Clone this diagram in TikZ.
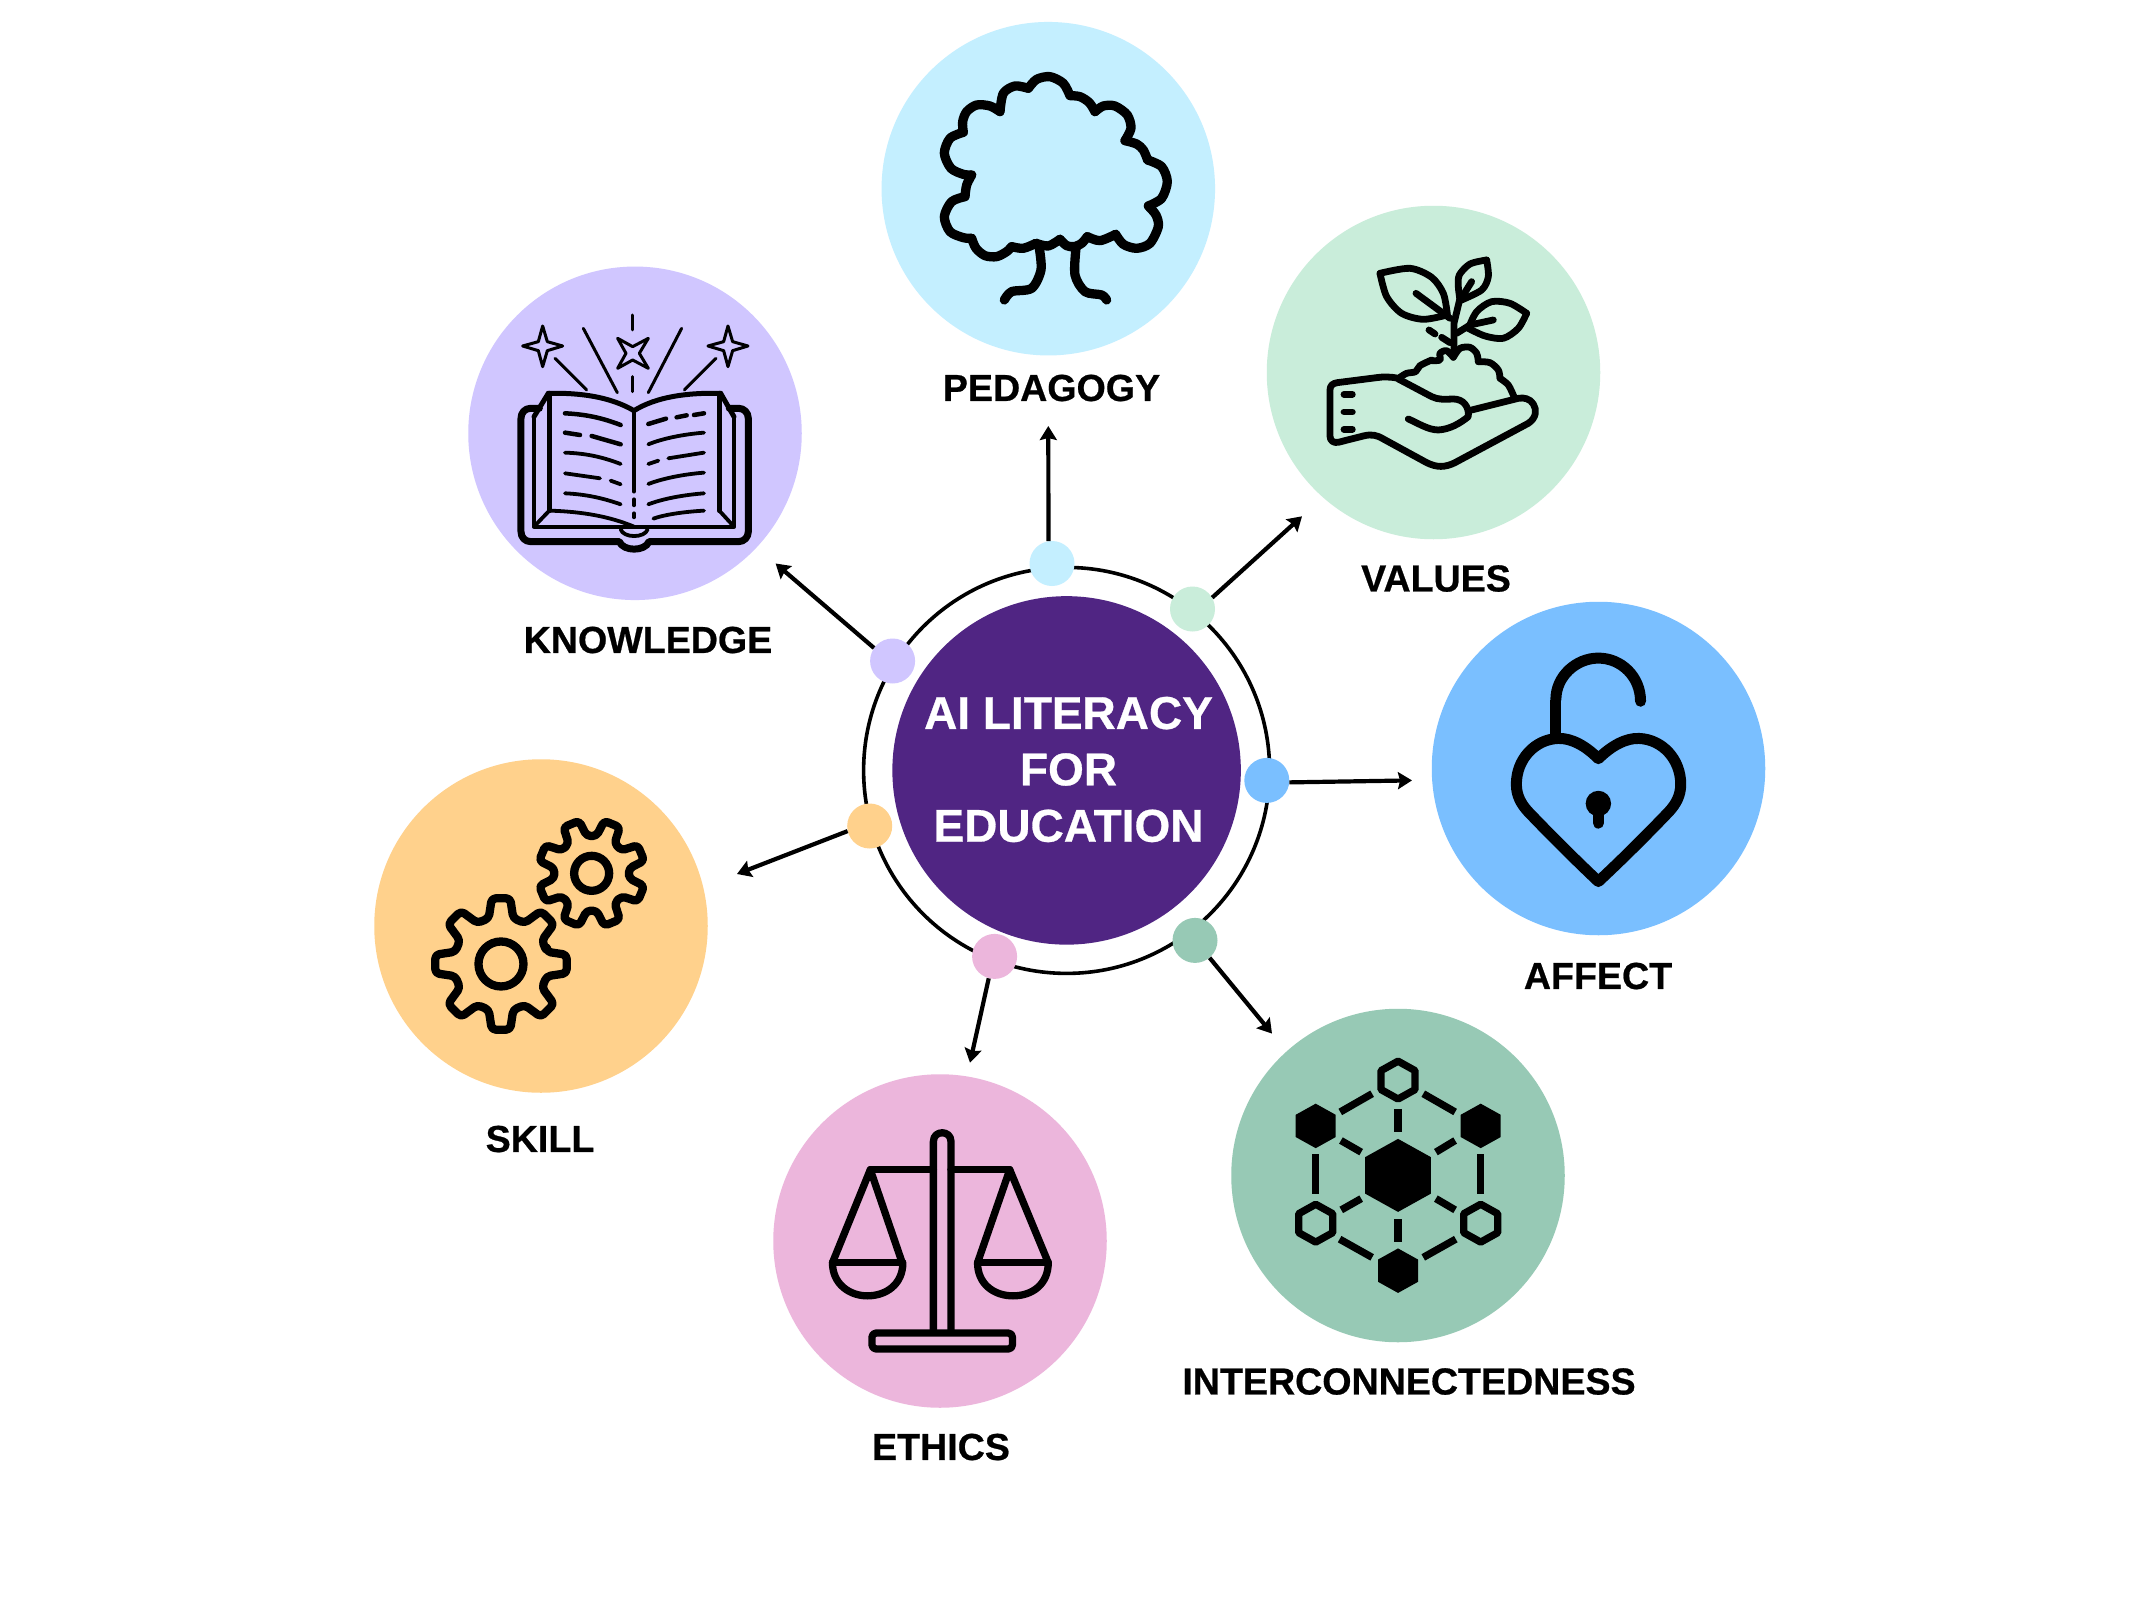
\documentclass[tikz,border=0pt]{standalone}
\usepackage{fontspec}
\setmainfont{Liberation Sans}[BoldFeatures={FakeBold=0.6}]
\usetikzlibrary{arrows.meta,shapes.geometric}
\definecolor{cPed}{HTML}{C4EFFF}
\definecolor{cVal}{HTML}{C9EDDA}
\definecolor{cKno}{HTML}{D0C6FF}
\definecolor{cAff}{HTML}{7ABFFF}
\definecolor{cInt}{HTML}{97C9B5}
\definecolor{cEth}{HTML}{ECB6DC}
\definecolor{cSki}{HTML}{FFD18C}
\definecolor{cCore}{HTML}{502583}
\tikzset{
  bigc/.style={circle,fill=#1,draw=none,minimum size=333.5pt,inner sep=0pt},
  dotn/.style={circle,fill=#1,draw=none,minimum size=45pt,inner sep=0pt},
  lab/.style={font=\fontsize{37.6}{40}\selectfont\bfseries,text=black,inner sep=0pt},
  arw/.style={line width=4.2pt,line join=round,-{Stealth[length=14pt,width=17pt,inset=2pt]}},
  ico/.style={draw=black,line cap=round,line join=round},
}
\newcommand{\hexout}[3]{({#1},{#2-#3}) -- ({#1+.9*#3},{#2-.5*#3}) -- ({#1+.9*#3},{#2+.5*#3}) -- ({#1},{#2+#3}) -- ({#1-.9*#3},{#2+.5*#3}) -- ({#1-.9*#3},{#2-.5*#3}) -- cycle}
\newcommand{\gearpath}[7]{% cx cy tip root tipHalf rootHalf rot
  \draw[ico,line width=8.3pt,rounded corners=4pt]
    ({#1+#4*cos(#7-#6)},{#2+#4*sin(#7-#6)})
    \foreach \gk in {0,45,...,315}{
      -- ({#1+#4*cos(#7+\gk-#6)},{#2+#4*sin(#7+\gk-#6)})
      -- ({#1+#3*cos(#7+\gk-#5)},{#2+#3*sin(#7+\gk-#5)})
      -- ({#1+#3*cos(#7+\gk+#5)},{#2+#3*sin(#7+\gk+#5)})
      -- ({#1+#4*cos(#7+\gk+#6)},{#2+#4*sin(#7+\gk+#6)})
    } -- cycle;}
\begin{document}
\begin{tikzpicture}[x=1pt,y=-1pt]
\useasboundingbox (0,0) rectangle (2134,1600);
\fill[white] (0,0) rectangle (2134,1600);

% big circles
\node[bigc=cPed] (ped) at (1048.3,188.7) {};
\node[bigc=cVal] (val) at (1433.5,372.5) {};
\node[bigc=cKno] (kno) at (635,433.3) {};
\node[bigc=cAff] (aff) at (1598.5,768.5) {};
\node[bigc=cInt] (int) at (1398,1175.5) {};
\node[bigc=cEth] (eth) at (940,1241) {};
\node[bigc=cSki] (ski) at (541,926) {};

% centre
\node[circle,draw=black,line width=3.6pt,minimum size=406pt,inner sep=0pt] (ring) at (1066.6,770.4) {};
\node[circle,fill=cCore,draw=none,minimum size=348.5pt,inner sep=0pt] (core) at (1066.6,770.4) {};
\node[font=\fontsize{46}{56.4}\selectfont\bfseries,text=white,align=center,inner sep=0pt] (coretext) at (1068.5,769.5) {AI LITERACY\\FOR\\EDUCATION};

% dots
\node[dotn=cPed] (dped) at (1052,563.5) {};
\node[dotn=cVal] (dval) at (1192.5,609) {};
\node[dotn=cKno] (dkno) at (892.6,661) {};
\node[dotn=cAff] (daff) at (1266.8,780.4) {};
\node[dotn=cSki] (dski) at (869.7,826) {};
\node[dotn=cEth] (deth) at (994.6,956.4) {};
\node[dotn=cInt] (dint) at (1195,940.4) {};

% arrow tips
\coordinate (tped) at (1048.3,426);
\coordinate (tval) at (1302,516.3);
\coordinate (tkno) at (775.6,563.5);
\coordinate (taff) at (1412,780.4);
\coordinate (tski) at (737,874);
\coordinate (teth) at (970,1062.7);
\coordinate (tint) at (1272,1033.6);
\draw[arw] (dped.99) -- (tped);
\draw[arw] (dval.30) -- (tval);
\draw[arw] (dkno.145) -- (tkno);
\draw[arw] (daff.-5) -- (taff);
\draw[arw] (dski.193) -- (tski);
\draw[arw] (deth.255) -- (teth);
\draw[arw] (dint.-50) -- (tint);

% labels
\node[lab] (lped) at (1051.5,388) {PEDAGOGY};
\node[lab] (lval) at (1436,578.5) {VALUES};
\node[lab] (lkno) at (648,640) {KNOWLEDGE};
\node[lab] (laff) at (1598,976) {AFFECT};
\node[lab] (lski) at (540,1139) {SKILL};
\node[lab] (lint) at (1409,1381.5) {INTERCONNECTEDNESS};
\node[lab] (leth) at (941,1447) {ETHICS};

% tree icon
\begin{scope}[shift={(850,0)},x=.3333pt,y=-.3333pt,every path/.style={ico,line width=9.3pt}]
\draw plot[smooth] coordinates {(345,590) (350,555) (365,525)};
\draw plot[smooth] coordinates {(345,590) (305,605) (283,650) (300,695) (340,713) (365,715)};
\draw plot[smooth] coordinates {(365,715) (378,745) (405,767) (440,770) (470,755) (485,740)};
\draw plot[smooth] coordinates {(485,740) (520,745) (558,730)};
\draw plot[smooth] coordinates {(558,730) (595,738) (630,718)};
\draw plot[smooth] coordinates {(630,718) (650,737) (672,740) (695,730) (712,710)};
\draw plot[smooth] coordinates {(712,710) (750,722) (797,703)};
\draw plot[smooth] coordinates {(797,703) (820,733) (860,745) (900,730) (925,680) (918,645) (895,618)};
\draw plot[smooth] coordinates {(895,618) (935,595) (952,545) (935,500) (893,480)};
\draw plot[smooth] coordinates {(893,480) (880,450) (860,432) (825,422)};
\draw plot[smooth] coordinates {(825,422) (843,385) (832,345) (795,318) (760,318) (735,335)};
\draw plot[smooth] coordinates {(735,335) (718,308) (690,290) (660,287)};
\draw plot[smooth] coordinates {(660,287) (640,250) (600,230) (560,238) (535,265)};
\draw plot[smooth] coordinates {(535,265) (495,258) (460,280) (450,335)};
\draw plot[smooth] coordinates {(450,335) (420,318) (380,315) (350,335) (338,365) (340,397)};
\draw plot[smooth] coordinates {(340,397) (300,415) (283,460) (303,505) (340,523) (365,525)};
\draw plot[smooth] coordinates {(568,745) (573,810) (545,865) (485,875) (463,900)};
\draw plot[smooth] coordinates {(678,745) (675,825) (705,875) (755,885) (770,900)};
\end{scope}

% plant in hand icon
\begin{scope}[shift={(1250,190)},x=.3333pt,y=-.3333pt,every path/.style={ico,line width=6.8pt}]
\draw (445,565) .. controls (420,560) and (400,560) .. (380,563) -- (262,578) .. controls (248,580) and (240,587) .. (240,600) -- (240,738) .. controls (240,752) and (250,760) .. (265,757) -- (340,738) .. controls (365,732) and (380,735) .. (400,747) -- (530,818) .. controls (560,833) and (585,833) .. (615,818) -- (835,700) .. controls (858,685) and (862,660) .. (850,642) .. controls (840,626) and (822,622) .. (805,625) -- (665,660);
\draw (445,567) -- (545,620) .. controls (565,630) and (585,628) .. (610,627) .. controls (640,627) and (658,650) .. (655,680) .. controls (630,700) and (600,718) .. (565,720) .. controls (535,720) and (505,700) .. (475,687);
\draw (282,613) -- (307,613);
\draw (282,666) -- (307,666);
\draw (282,718) -- (307,718);
\draw plot[smooth] coordinates {(450,562) (470,550) (497,545) (510,527)  (545,510)};
\draw plot[smooth] coordinates {(545,512) (570,510) (570,490) (590,482) (610,502)};
\draw plot[smooth] coordinates {(610,502) (630,475) (660,472) (680,490) (685,515)};
\draw plot[smooth] coordinates {(685,515) (720,518) (745,540) (750,565)};
\draw plot[smooth] coordinates {(750,565) (775,585) (792,620)};
\draw (612,480) -- (612,400) -- (630,325);
\draw plot[smooth] coordinates {(390,250) (480,235) (545,262) (580,310) (592,372)};
\draw plot[smooth] coordinates {(390,250) (410,320) (455,370) (520,388) (592,375)};
\draw (498,310) -- (600,385);
\draw plot[smooth] coordinates {(710,210) (660,222) (628,255) (625,290) (630,330)};
\draw plot[smooth] coordinates {(710,210) (715,260) (695,300) (630,332)};
\draw (640,315) -- (665,275);
\draw plot[smooth] coordinates {(830,370) (780,340) (725,335) (680,365) (655,415)};
\draw plot[smooth] coordinates {(830,370) (805,415) (760,445) (705,438) (655,415)};
\draw (620,430) -- (660,405) -- (730,390);
\draw (537,420) -- (555,432);
\draw (575,442) -- (600,458);
\end{scope}

% book icon
\begin{scope}[shift={(460,260)},x=.3333pt,y=-.3333pt,every path/.style={ico,line width=3.8pt}]
\draw[line width=7pt] (238,445) -- (212,445) .. controls (195,445) and (183,458) .. (183,475) -- (183,815) .. controls (183,832) and (195,845) .. (212,845) -- (478,845) .. controls (490,875) and (555,875) .. (567,845) -- (836,845) .. controls (852,845) and (865,832) .. (865,815) -- (865,475) .. controls (865,458) and (852,445) .. (836,445) -- (808,445);
\draw (222,470) -- (222,800) -- (822,800) -- (822,470);
\draw[line width=5pt] (222,470) -- (265,400);
\draw[line width=5pt] (822,470) -- (782,400);
\draw[line width=5pt] (268,400) -- (268,752);
\draw[line width=5pt] (778,400) -- (778,752);
\draw (268,752) -- (222,800);
\draw (778,752) -- (822,800);
\draw[line width=5pt] (265,400) .. controls (360,398) and (450,410) .. (522,452) .. controls (590,410) and (680,398) .. (782,400);
\draw (268,752) .. controls (370,755) and (450,770) .. (522,800);
\draw (522,452) -- (522,695);
\draw (522,718) -- (522,736);
\draw (522,760) -- (522,772);
\draw (482,808) .. controls (490,835) and (555,835) .. (563,808);
% text lines
\draw[line width=4.5pt] (315,460) .. controls (380,463) and (430,475) .. (482,495);
\draw[line width=4.5pt] (315,518) -- (360,525);
\draw[line width=4.5pt] (395,528) -- (482,553);
\draw (315,578) .. controls (380,580) and (430,592) .. (482,612);
\draw (315,640) -- (420,655);
\draw (452,662) -- (482,673);
\draw (315,700) .. controls (380,703) and (430,715) .. (482,733);
\draw[line width=4.5pt] (565,492) -- (618,476);
\draw[line width=4.5pt] (650,472) -- (680,466);
\draw[line width=4.5pt] (702,465) -- (732,460);
\draw (565,553) .. controls (610,535) and (670,523) .. (732,518);
\draw (565,612) -- (595,602);
\draw (625,595) -- (732,578);
\draw (565,672) .. controls (610,655) and (670,643) .. (732,638);
\draw (565,733) .. controls (610,716) and (670,705) .. (732,700);
\draw (580,776) .. controls (620,762) and (680,755) .. (732,752);
% rays
\draw[line width=3pt] (285,295) -- (380,390);
\draw[line width=3pt] (370,205) -- (472,398);
\draw[line width=3pt] (518,165) -- (518,210);
\draw[line width=3pt] (518,350) -- (518,395);
\draw[line width=3pt] (665,205) -- (565,398);
\draw[line width=3pt] (768,295) -- (673,390);
% stars
\draw[line width=3pt] (248,198) -- (262,245) -- (308,258) -- (262,272) -- (248,320) -- (235,272) -- (188,258) -- (235,245) -- cycle;
\draw[line width=3pt] (804,198) -- (818,245) -- (864,258) -- (818,272) -- (804,320) -- (791,272) -- (744,258) -- (791,245) -- cycle;
\draw[line width=3pt] (473,235) -- (518,260) -- (565,235) -- (538,280) -- (565,325) -- (518,300) -- (473,325) -- (498,280) -- cycle;
\end{scope}

% heart lock icon
\begin{scope}[shift={(1440,600)},x=.332pt,y=-.332pt,every path/.style={ico,line width=11pt}]
\draw[line cap=butt] (349,415) -- (349,300);
\draw (349,300) .. controls (349,230) and (410,175) .. (477,175) .. controls (545,175) and (604,230) .. (604,305);
\draw (477,478) .. controls (440,440) and (395,415) .. (355,417) .. controls (285,420) and (230,480) .. (230,555) .. controls (230,590) and (245,615) .. (265,637) .. controls (330,705) and (400,775) .. (477,848) .. controls (555,775) and (625,705) .. (690,637) .. controls (710,615) and (725,590) .. (725,555) .. controls (725,480) and (670,420) .. (600,417) .. controls (560,415) and (515,440) .. (477,478) -- cycle;
\fill[black,line width=2pt] (477,613) circle[radius=11.7pt];
\draw (477,630) -- (477,672);
\end{scope}

% network icon
\begin{scope}[shift={(1240,1020)},x=.332pt,y=-.332pt]
\fill[black] \hexout{476}{468}{110};
\fill[black] \hexout{228}{319}{67};
\fill[black] \hexout{725}{319}{67};
\fill[black] \hexout{476}{755}{67};
\draw[line width=7.3pt,line join=round] \hexout{476}{181}{57};
\draw[line width=7.3pt,line join=round] \hexout{228}{612}{57};
\draw[line width=7.3pt,line join=round] \hexout{725}{612}{57};
\foreach \xa/\ya/\xb/\yb in {302/277/398/222,552/222/648/277,476/268/476/338,304/363/365/398,648/363/590/398,227/405/227/525,725/405/725/525,365/538/305/572,590/538/648/572,476/600/476/668,300/660/398/715,650/660/552/715}
  \draw[line width=7.3pt] (\xa,\ya) -- (\xb,\yb);
\end{scope}

% scales icon
\begin{scope}[shift={(780,1090)},x=.332pt,y=-.332pt,every path/.style={ico,line width=7.3pt}]
\draw (462,725) -- (462,155) .. controls (462,120) and (515,120) .. (515,155) -- (515,725);
\draw (272,240) -- (462,240);
\draw (515,240) -- (692,240);
\draw[rounded corners=4pt] (277,732) rectangle (700,780);
\draw (158,520) -- (272,240) -- (368,520);
\draw (158,520) -- (368,520);
\draw (158,520) .. controls (158,585) and (210,620) .. (263,620) .. controls (320,620) and (370,585) .. (370,520);
\draw (595,520) -- (692,240) -- (808,520);
\draw (595,520) -- (808,520);
\draw (595,520) .. controls (595,585) and (645,620) .. (702,620) .. controls (760,620) and (808,585) .. (808,520);
\end{scope}

% gears icon
\begin{scope}[shift={(400,790)},x=.3333pt,y=-.3333pt]
\gearpath{303}{522}{199}{142}{8}{15}{0}
\draw[line width=8.3pt] (303,522) circle[radius=22.5pt];
\gearpath{575}{250}{162}{113}{9}{15}{22.5}
\draw[line width=8.3pt] (575,250) circle[radius=17.5pt];
\end{scope}
\end{tikzpicture}
\end{document}
